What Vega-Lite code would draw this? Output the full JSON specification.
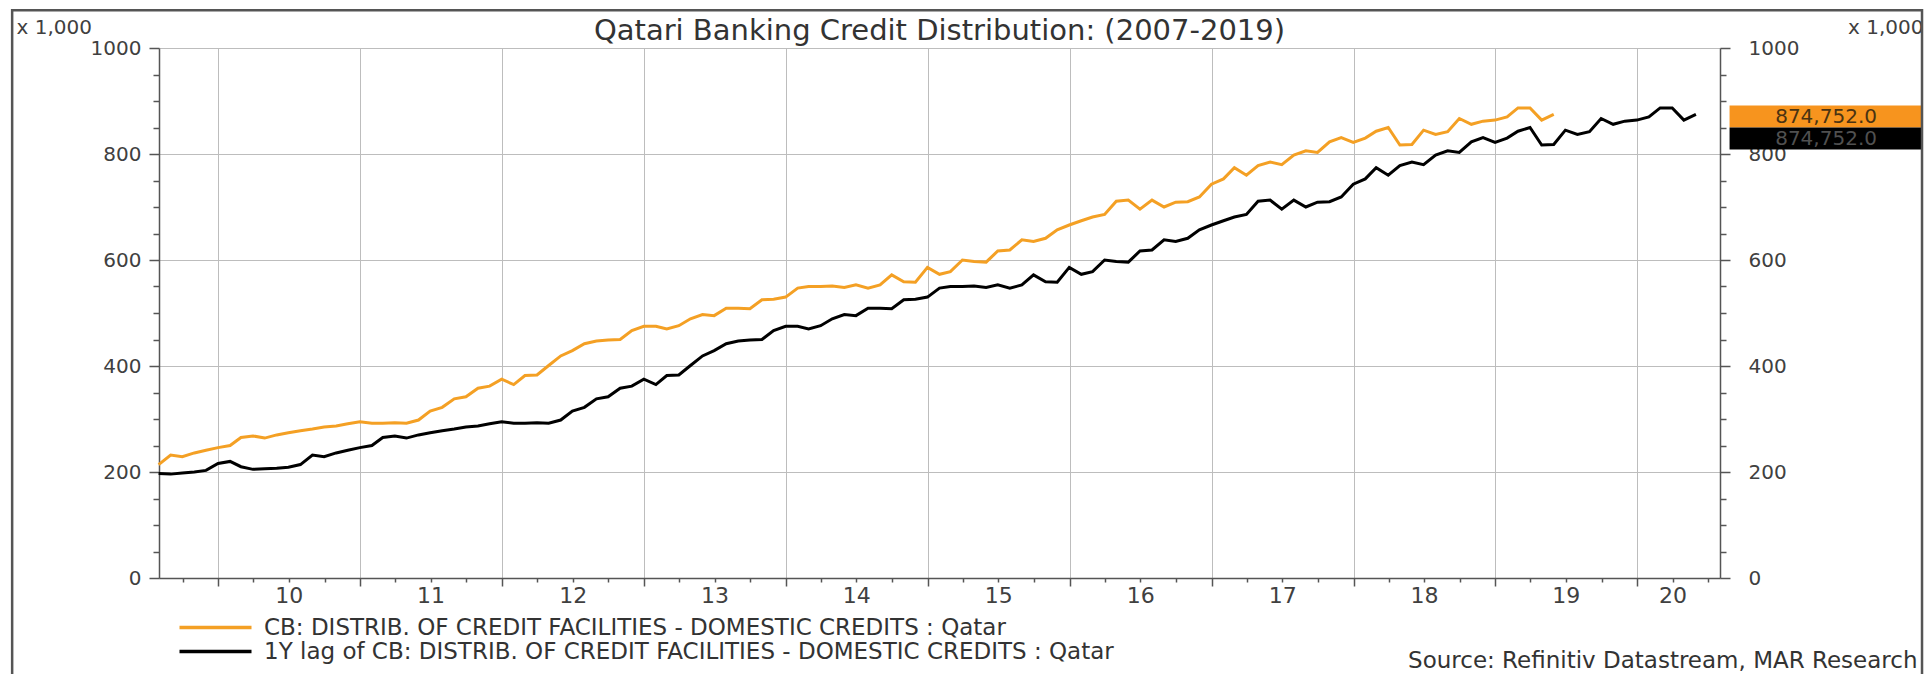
{
  "$schema": "https://vega.github.io/schema/vega-lite/v6.json",
  "width": 1561,
  "height": 530,
  "autosize": {"type": "none"},
  "padding": {"left": 159, "top": 48, "right": 207, "bottom": 96},
  "background": "white",
  "title": {"text": "Qatari Banking Credit Distribution: (2007-2019)", "fontSize": 29, "fontWeight": "normal", "color": "#333333", "anchor": "middle", "offset": 8, "dy": 45},
  "datasets": {
    "credit": [
      {"d":"2009-07-31","cb":214,"lag":197},{"d":"2009-08-31","cb":232,"lag":196},{"d":"2009-09-30","cb":229,"lag":198},{"d":"2009-10-31","cb":236,"lag":200},{"d":"2009-11-30","cb":241,"lag":203},{"d":"2009-12-31","cb":246,"lag":216},
      {"d":"2010-01-31","cb":250,"lag":220},{"d":"2010-02-28","cb":265,"lag":210},{"d":"2010-03-31","cb":268,"lag":205},{"d":"2010-04-30","cb":264,"lag":206},{"d":"2010-05-31","cb":270,"lag":207},{"d":"2010-06-30","cb":274,"lag":209},
      {"d":"2010-07-31","cb":278,"lag":214},{"d":"2010-08-31","cb":281,"lag":232},{"d":"2010-09-30","cb":285,"lag":229},{"d":"2010-10-31","cb":287,"lag":236},{"d":"2010-11-30","cb":291,"lag":241},{"d":"2010-12-31","cb":295,"lag":246},
      {"d":"2011-01-31","cb":292,"lag":250},{"d":"2011-02-28","cb":292,"lag":265},{"d":"2011-03-31","cb":293,"lag":268},{"d":"2011-04-30","cb":292,"lag":264},{"d":"2011-05-31","cb":298,"lag":270},{"d":"2011-06-30","cb":315,"lag":274},
      {"d":"2011-07-31","cb":322,"lag":278},{"d":"2011-08-31","cb":338,"lag":281},{"d":"2011-09-30","cb":342,"lag":285},{"d":"2011-10-31","cb":358,"lag":287},{"d":"2011-11-30","cb":362,"lag":291},{"d":"2011-12-31","cb":375,"lag":295},
      {"d":"2012-01-31","cb":365,"lag":292},{"d":"2012-02-29","cb":382,"lag":292},{"d":"2012-03-31","cb":383,"lag":293},{"d":"2012-04-30","cb":401,"lag":292},{"d":"2012-05-31","cb":419,"lag":298},{"d":"2012-06-30","cb":429,"lag":315},
      {"d":"2012-07-31","cb":442,"lag":322},{"d":"2012-08-31","cb":447,"lag":338},{"d":"2012-09-30","cb":449,"lag":342},{"d":"2012-10-31","cb":450,"lag":358},{"d":"2012-11-30","cb":467,"lag":362},{"d":"2012-12-31","cb":475,"lag":375},
      {"d":"2013-01-31","cb":475,"lag":365},{"d":"2013-02-28","cb":470,"lag":382},{"d":"2013-03-31","cb":476,"lag":383},{"d":"2013-04-30","cb":489,"lag":401},{"d":"2013-05-31","cb":497,"lag":419},{"d":"2013-06-30","cb":495,"lag":429},
      {"d":"2013-07-31","cb":509,"lag":442},{"d":"2013-08-31","cb":509,"lag":447},{"d":"2013-09-30","cb":508,"lag":449},{"d":"2013-10-31","cb":525,"lag":450},{"d":"2013-11-30","cb":526,"lag":467},{"d":"2013-12-31","cb":530,"lag":475},
      {"d":"2014-01-31","cb":547,"lag":475},{"d":"2014-02-28","cb":550,"lag":470},{"d":"2014-03-31","cb":550,"lag":476},{"d":"2014-04-30","cb":551,"lag":489},{"d":"2014-05-31","cb":548,"lag":497},{"d":"2014-06-30","cb":553,"lag":495},
      {"d":"2014-07-31","cb":547,"lag":509},{"d":"2014-08-31","cb":553,"lag":509},{"d":"2014-09-30","cb":572,"lag":508},{"d":"2014-10-31","cb":559,"lag":525},{"d":"2014-11-30","cb":558,"lag":526},{"d":"2014-12-31","cb":586,"lag":530},
      {"d":"2015-01-31","cb":573,"lag":547},{"d":"2015-02-28","cb":578,"lag":550},{"d":"2015-03-31","cb":600,"lag":550},{"d":"2015-04-30","cb":597,"lag":551},{"d":"2015-05-31","cb":596,"lag":548},{"d":"2015-06-30","cb":617,"lag":553},
      {"d":"2015-07-31","cb":619,"lag":547},{"d":"2015-08-31","cb":638,"lag":553},{"d":"2015-09-30","cb":635,"lag":572},{"d":"2015-10-31","cb":641,"lag":559},{"d":"2015-11-30","cb":657,"lag":558},{"d":"2015-12-31","cb":666,"lag":586},
      {"d":"2016-01-31","cb":674,"lag":573},{"d":"2016-02-29","cb":681,"lag":578},{"d":"2016-03-31","cb":686,"lag":600},{"d":"2016-04-30","cb":711,"lag":597},{"d":"2016-05-31","cb":713,"lag":596},{"d":"2016-06-30","cb":696,"lag":617},
      {"d":"2016-07-31","cb":713,"lag":619},{"d":"2016-08-31","cb":700,"lag":638},{"d":"2016-09-30","cb":709,"lag":635},{"d":"2016-10-31","cb":710,"lag":641},{"d":"2016-11-30","cb":719,"lag":657},{"d":"2016-12-31","cb":743,"lag":666},
      {"d":"2017-01-31","cb":753,"lag":674},{"d":"2017-02-28","cb":774,"lag":681},{"d":"2017-03-31","cb":760,"lag":686},{"d":"2017-04-30","cb":778,"lag":711},{"d":"2017-05-31","cb":785,"lag":713},{"d":"2017-06-30","cb":780,"lag":696},
      {"d":"2017-07-31","cb":798,"lag":713},{"d":"2017-08-31","cb":806,"lag":700},{"d":"2017-09-30","cb":803,"lag":709},{"d":"2017-10-31","cb":823,"lag":710},{"d":"2017-11-30","cb":831,"lag":719},{"d":"2017-12-31","cb":822,"lag":743},
      {"d":"2018-01-31","cb":830,"lag":753},{"d":"2018-02-28","cb":843,"lag":774},{"d":"2018-03-31","cb":850,"lag":760},{"d":"2018-04-30","cb":817,"lag":778},{"d":"2018-05-31","cb":818,"lag":785},{"d":"2018-06-30","cb":845,"lag":780},
      {"d":"2018-07-31","cb":837,"lag":798},{"d":"2018-08-31","cb":842,"lag":806},{"d":"2018-09-30","cb":867,"lag":803},{"d":"2018-10-31","cb":856,"lag":823},{"d":"2018-11-30","cb":862,"lag":831},{"d":"2018-12-31","cb":864,"lag":822},
      {"d":"2019-01-31","cb":870,"lag":830},{"d":"2019-02-28","cb":887,"lag":843},{"d":"2019-03-31","cb":887,"lag":850},{"d":"2019-04-30","cb":864,"lag":817},{"d":"2019-05-31","cb":874.752,"lag":818},{"d":"2019-06-30","lag":845},
      {"d":"2019-07-31","lag":837},{"d":"2019-08-31","lag":842},{"d":"2019-09-30","lag":867},{"d":"2019-10-31","lag":856},{"d":"2019-11-30","lag":862},{"d":"2019-12-31","lag":864},
      {"d":"2020-01-31","lag":870},{"d":"2020-02-29","lag":887},{"d":"2020-03-31","lag":887},{"d":"2020-04-30","lag":864},{"d":"2020-05-31","lag":874.752}
    ],
    "latest": [
      {"series": "cb", "v": 874.752, "label": "874,752.0"},
      {"series": "lag", "v": 874.752, "label": "874,752.0"}
    ],
    "frame": [{"name": "frame"}]
  },
  "layer": [
    {
      "data": {"name": "credit"},
      "transform": [
        {"fold": ["cb", "lag"], "as": ["series", "value"]},
        {"filter": "isValid(datum.value)"}
      ],
      "mark": {"type": "line", "strokeWidth": 3, "clip": false},
      "encoding": {
        "x": {
          "field": "d", "type": "temporal",
          "scale": {"type": "utc", "domain": [{"year": 2009, "month": 8, "date": 1, "utc": true}, {"year": 2020, "month": 8, "date": 1, "utc": true}]},
          "axis": {
            "orient": "bottom",
            "tickCount": {"interval": "month", "step": 3},
            "labelExpr": "(utcmonth(datum.value) == 6 && utcyear(datum.value) < 2020) || (utcmonth(datum.value) == 3 && utcyear(datum.value) == 2020) ? utcFormat(datum.value, '%y') : ''",
            "labelOverlap": false, "labelBound": false, "labelFlush": false,
            "labelFontSize": 22, "labelColor": "#404040", "labelPadding": 3,
            "tickSize": {"condition": {"test": "utcmonth(datum.value) == 0", "value": 8}, "value": 4},
            "tickColor": "#555555", "tickWidth": 1.5,
            "grid": true, "gridColor": "#bdbdbd", "gridWidth": 1,
            "gridOpacity": {"condition": {"test": "utcmonth(datum.value) == 0", "value": 1}, "value": 0},
            "domainColor": "#555555", "domainWidth": 1.5,
            "title": "Source: Refinitiv Datastream, MAR Research",
            "titleFontSize": 23, "titleFontWeight": "normal", "titleColor": "#333333",
            "titleX": 1758, "titleY": 89, "titleAlign": "right", "titleBaseline": "alphabetic", "titleAnchor": "end"
          }
        },
        "y": {
          "field": "value", "type": "quantitative",
          "scale": {"domain": [0, 1000]},
          "axis": {
            "orient": "left",
            "values": [0,50,100,150,200,250,300,350,400,450,500,550,600,650,700,750,800,850,900,950,1000],
            "labelExpr": "datum.value % 200 == 0 ? format(datum.value, 'd') : ''",
            "tickSize": {"condition": {"test": "datum.value % 200 == 0", "value": 10}, "value": 6},
            "tickColor": "#555555", "tickWidth": 1.5,
            "grid": true, "gridColor": "#bdbdbd", "gridWidth": 1,
            "gridOpacity": {"condition": {"test": "datum.value % 200 == 0", "value": 1}, "value": 0},
            "domainColor": "#555555", "domainWidth": 1.5,
            "labelFontSize": 20, "labelColor": "#404040", "labelPadding": 8,
            "title": "x 1,000", "titleAngle": 0, "titleX": -143, "titleY": -15,
            "titleAlign": "left", "titleBaseline": "alphabetic", "titleFontSize": 20, "titleFontWeight": "normal", "titleColor": "#404040"
          }
        },
        "color": {
          "field": "series", "type": "nominal",
          "scale": {"domain": ["cb", "lag"], "range": ["#F4A024", "#000000"]},
          "legend": {
            "orient": "none", "legendX": 45, "legendY": 568, "title": null,
            "labelExpr": "datum.label == 'cb' ? 'CB: DISTRIB. OF CREDIT FACILITIES - DOMESTIC CREDITS : Qatar' : '1Y lag of CB: DISTRIB. OF CREDIT FACILITIES - DOMESTIC CREDITS : Qatar'",
            "symbolType": "M-6,0H6", "symbolSize": 144, "symbolStrokeWidth": 3.5,
            "labelFontSize": 23, "labelColor": "#333333", "labelOffset": 37, "rowPadding": -3, "labelLimit": 1500
          }
        }
      }
    },
    {
      "data": {"name": "latest"},
      "transform": [{"filter": "datum.series == 'cb'"}],
      "mark": {"type": "tick", "orient": "horizontal", "thickness": 22, "size": 193, "color": "#F7941E", "opacity": 1, "yOffset": 2, "clip": false},
      "encoding": {
        "x": {"datum": {"year": 2021, "month": 5, "date": 1, "utc": true}, "type": "temporal", "axis": null},
        "y": {
          "field": "v", "type": "quantitative",
          "axis": {
            "orient": "right",
            "values": [0,50,100,150,200,250,300,350,400,450,500,550,600,650,700,750,800,850,900,950,1000],
            "labelExpr": "datum.value % 200 == 0 ? format(datum.value, 'd') : ''",
            "tickSize": {"condition": {"test": "datum.value % 200 == 0", "value": 10}, "value": 6},
            "tickColor": "#555555", "tickWidth": 1.5,
            "grid": false,
            "domainColor": "#555555", "domainWidth": 1.5,
            "labelFontSize": 20, "labelColor": "#404040", "labelPadding": 18,
            "title": "x 1,000", "titleAngle": 0, "titleX": 203, "titleY": -15,
            "titleAlign": "right", "titleBaseline": "alphabetic", "titleFontSize": 20, "titleFontWeight": "normal", "titleColor": "#404040"
          }
        }
      }
    },
    {
      "data": {"name": "latest"},
      "transform": [{"filter": "datum.series == 'lag'"}],
      "mark": {"type": "tick", "orient": "horizontal", "thickness": 22, "size": 193, "color": "#000000", "opacity": 1, "yOffset": 24, "clip": false},
      "encoding": {
        "x": {"datum": {"year": 2021, "month": 5, "date": 1, "utc": true}, "type": "temporal", "axis": null},
        "y": {"field": "v", "type": "quantitative", "axis": null}
      }
    },
    {
      "data": {"name": "latest"},
      "transform": [{"filter": "datum.series == 'cb'"}],
      "mark": {"type": "text", "fontSize": 20, "color": "#4a3312", "align": "center", "baseline": "middle", "yOffset": 3, "clip": false},
      "encoding": {
        "x": {"datum": {"year": 2021, "month": 5, "date": 1, "utc": true}, "type": "temporal", "axis": null},
        "y": {"field": "v", "type": "quantitative", "axis": null},
        "text": {"field": "label"}
      }
    },
    {
      "data": {"name": "latest"},
      "transform": [{"filter": "datum.series == 'lag'"}],
      "mark": {"type": "text", "fontSize": 20, "color": "#505050", "align": "center", "baseline": "middle", "yOffset": 25, "clip": false},
      "encoding": {
        "x": {"datum": {"year": 2021, "month": 5, "date": 1, "utc": true}, "type": "temporal", "axis": null},
        "y": {"field": "v", "type": "quantitative", "axis": null},
        "text": {"field": "label"}
      }
    },
    {
      "data": {"name": "frame"},
      "mark": {"type": "rect", "filled": false, "stroke": "#555555", "strokeWidth": 2.5, "clip": false},
      "encoding": {
        "x": {"datum": {"year": 2008, "month": 7, "date": 19, "utc": true}, "type": "temporal", "axis": null},
        "x2": {"datum": {"year": 2022, "month": 1, "date": 3, "utc": true}},
        "y": {"datum": 1071, "type": "quantitative", "axis": null},
        "y2": {"datum": -190}
      }
    }
  ],
  "resolve": {"axis": {"x": "independent", "y": "independent"}},
  "config": {
    "font": "DejaVu Sans",
    "view": {"stroke": null}
  }
}
